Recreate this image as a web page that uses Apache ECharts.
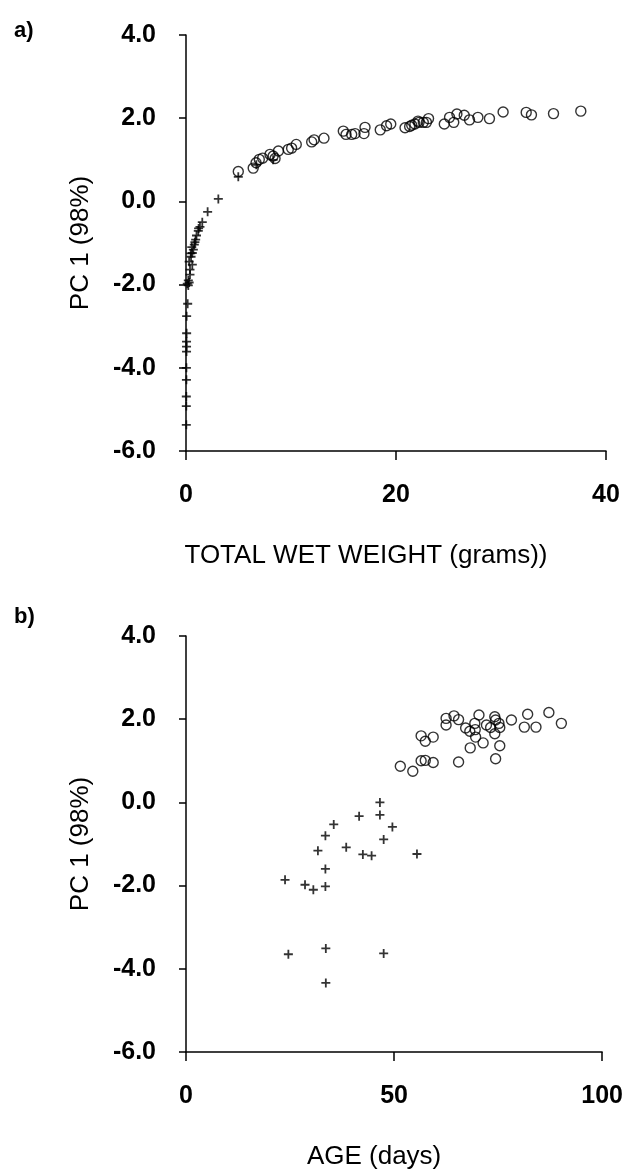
<!DOCTYPE html>
<html>
<head>
<meta charset="utf-8">
<script src="https://cdn.jsdelivr.net/npm/echarts@6/dist/echarts.min.js"></script>
<style>
  html, body { margin: 0; padding: 0; background: #fff; }
  #chart { width: 626px; height: 1171px; }
</style>
</head>
<body>
<div id="chart"></div>
<script>
// panel a: PC1 vs total wet weight
const weightPlus = [3.08, 2.06, 1.55, 1.33, 1.2, 1.17, 1.0, 0.92, 0.85, 0.79, 0.7, 0.55, 0.6, 0.48, 0.45, 0.6, 0.3, 0.38, 0.38, 0.22, 0.3, 0.22, 0.12, 0.16, 0.06, 0.06, 0.05, 0.05, 0.05, 0.04, 0.04, 0.03, 0.03, 0.03, 4.98, 6.7, 8.3]
const pcWeightPlus = [0.06, -0.25, -0.5, -0.61, -0.65, -0.71, -0.82, -0.92, -0.98, -1.04, -1.16, -1.1, -1.24, -1.33, -1.25, -1.52, -1.45, -1.64, -1.76, -1.9, -1.95, -2.02, -1.98, -2.46, -2.76, -3.17, -3.37, -3.49, -3.61, -4.0, -4.29, -4.69, -4.92, -5.37, 0.59, 0.88, 1.0]
const weightCircle = [4.98, 6.4, 6.67, 6.98, 7.3, 8.0, 8.3, 8.48, 8.8, 9.74, 10.06, 10.5, 11.97, 12.2, 13.14, 14.98, 15.24, 15.78, 16.1, 17.05, 16.95, 18.5, 19.1, 19.5, 20.86, 21.3, 21.8, 22.2, 21.5, 22.1, 22.6, 23.1, 22.9, 24.6, 25.1, 25.5, 25.8, 26.5, 27.0, 27.8, 28.9, 30.2, 32.4, 32.9, 35.0, 37.6]
const pcWeightCircle = [0.72, 0.8, 0.93, 1.01, 1.04, 1.13, 1.09, 1.03, 1.21, 1.25, 1.28, 1.37, 1.43, 1.48, 1.52, 1.69, 1.61, 1.61, 1.63, 1.78, 1.63, 1.72, 1.82, 1.86, 1.77, 1.8, 1.86, 1.9, 1.83, 1.93, 1.9, 1.99, 1.9, 1.86, 2.02, 1.9, 2.1, 2.07, 1.96, 2.02, 1.99, 2.15, 2.14, 2.08, 2.11, 2.17]

// panel b: PC1 vs age
const agePlus = [46.6, 46.6, 41.6, 35.5, 49.6, 33.5, 47.5, 31.7, 38.5, 42.5, 44.6, 55.5, 33.5, 23.8, 28.6, 30.6, 33.5, 24.6, 33.6, 47.5, 33.6]
const pcAgePlus = [0.0, -0.3, -0.33, -0.53, -0.59, -0.8, -0.89, -1.16, -1.08, -1.25, -1.28, -1.24, -1.6, -1.86, -1.98, -2.1, -2.02, -3.65, -3.51, -3.63, -4.34]
const ageCircle = [51.5, 54.5, 56.5, 57.5, 59.4, 65.5, 56.5, 57.5, 59.4, 62.5, 62.5, 64.4, 65.5, 67.2, 68.2, 69.4, 70.4, 69.6, 68.3, 71.4, 72.2, 73.2, 74.2, 74.4, 75.2, 75.4, 74.2, 75.4, 74.4, 78.2, 81.3, 82.1, 84.1, 87.2, 90.2, 69.5]
const pcAgeCircle = [0.87, 0.75, 1.0, 1.01, 0.96, 0.97, 1.6, 1.47, 1.57, 2.02, 1.86, 2.08, 1.99, 1.79, 1.71, 1.9, 2.1, 1.57, 1.31, 1.43, 1.86, 1.8, 2.06, 1.98, 1.9, 1.8, 1.65, 1.36, 1.05, 1.98, 1.81, 2.12, 1.81, 2.16, 1.9, 1.75]

const yTicks = { min: -6, max: 4, interval: 2 }

const PLUS = 'path://M4,0H6V4H10V6H6V10H4V6H0V4H4Z'
const FONT = '"Liberation Sans", Arial, sans-serif'

const zip = (xs, ys) => xs.map((x, i) => [x, ys[i]])

const plusSeries = (idx, xs, ys) => ({
  type: 'scatter',
  xAxisIndex: idx,
  yAxisIndex: idx,
  symbol: PLUS,
  symbolSize: 9,
  itemStyle: { color: '#000' },
  data: zip(xs, ys)
})
const circleSeries = (idx, xs, ys) => ({
  type: 'scatter',
  xAxisIndex: idx,
  yAxisIndex: idx,
  symbol: 'circle',
  symbolSize: 10,
  itemStyle: { color: 'rgba(0,0,0,0)', borderColor: '#000', borderWidth: 1.4 },
  data: zip(xs, ys)
})

function xAxis(idx, name, max, interval, shift) {
  return {
    gridIndex: idx,
    type: 'value',
    min: 0,
    max,
    interval,
    name,
    nameLocation: 'middle',
    nameGap: 92,
    nameTextStyle: { color: '#000', fontSize: 26, fontFamily: FONT, padding: [0, shift, 0, 0] },
    axisLine: { show: true, onZero: false, lineStyle: { color: '#000', width: 1.5 } },
    axisTick: { show: true, length: 9, lineStyle: { color: '#000', width: 1.5 } },
    axisLabel: { margin: 32, color: '#000', fontSize: 25, fontWeight: 'bold', fontFamily: FONT, showMinLabel: true, showMaxLabel: true },
    splitLine: { show: false }
  }
}
function yAxis(idx) {
  return {
    gridIndex: idx,
    type: 'value',
    ...yTicks,
    name: 'PC 1 (98%)',
    nameLocation: 'middle',
    nameGap: 92,
    nameTextStyle: { color: '#000', fontSize: 26, fontFamily: FONT },
    axisLine: { show: true, onZero: false, lineStyle: { color: '#000', width: 1.5 } },
    axisTick: { show: true, length: 7, lineStyle: { color: '#000', width: 1.5 } },
    axisLabel: {
      margin: 30,
      color: '#000',
      fontSize: 25,
      fontWeight: 'bold',
      fontFamily: FONT,
      formatter: (v) => v.toFixed(1)
    },
    splitLine: { show: false }
  }
}

const chart = echarts.init(document.getElementById('chart'))
chart.setOption({
  backgroundColor: '#fff',
  animation: false,
  grid: [
    { left: 186, top: 35, width: 420, height: 416 },
    { left: 186, top: 636, width: 420, height: 416 }
  ],
  xAxis: [
    xAxis(0, 'TOTAL WET WEIGHT (grams))', 40, 20, 60),
    xAxis(1, 'AGE (days)', 100, 50, 40)
  ],
  yAxis: [yAxis(0), yAxis(1)],
  graphic: [
    { type: 'text', left: 14, top: 20, style: { text: 'a)', fontSize: 22, fontWeight: 'bold', fontFamily: FONT, fill: '#000' } },
    { type: 'text', left: 14, top: 606, style: { text: 'b)', fontSize: 22, fontWeight: 'bold', fontFamily: FONT, fill: '#000' } }
  ],
  series: [
    plusSeries(0, weightPlus, pcWeightPlus),
    circleSeries(0, weightCircle, pcWeightCircle),
    plusSeries(1, agePlus, pcAgePlus),
    circleSeries(1, ageCircle, pcAgeCircle)
  ]
})
</script>
</body>
</html>
